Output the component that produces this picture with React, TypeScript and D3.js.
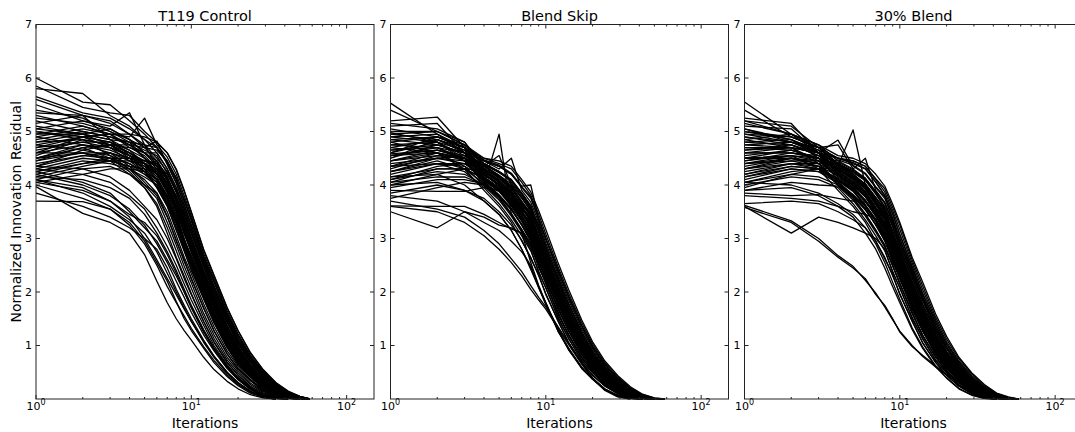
import React from 'react';
import * as d3 from 'd3';

// iteration number of every sample in a run
const ITERATIONS = [1, 2, 3, 4, 5, 6, 7, 8, 9, 10, 12, 14, 17, 20, 24, 29, 35, 42, 50, 58];
const Y_TICKS = [1, 2, 3, 4, 5, 6, 7];
const X_DECADES = [1, 10, 100];
const TITLES = ['T119 Control', 'Blend Skip', '30% Blend'];

// normalized innovation residual of each run, one value per entry of ITERATIONS
const CONTROL_RUNS = [
  [6.0, 5.55, 5.5, 5.2, 4.95, 4.7, 4.45, 4.12, 3.72, 3.35, 2.65, 2.19, 1.59, 1.17, 0.78, 0.49, 0.27, 0.11, 0.04, 0],
  [5.85, 5.45, 5.35, 5.3, 5.0, 4.8, 4.6, 4.3, 3.9, 3.5, 2.8, 2.32, 1.71, 1.28, 0.87, 0.55, 0.31, 0.15, 0.05, 0],
  [5.8, 5.71, 5.3, 5.1, 4.85, 4.6, 4.3, 3.95, 3.56, 3.18, 2.54, 2.05, 1.48, 1.07, 0.71, 0.44, 0.23, 0.09, 0.02, 0],
  [5.6, 5.3, 5.2, 4.95, 4.7, 4.45, 4.15, 3.78, 3.42, 2.98, 2.4, 1.92, 1.37, 0.98, 0.64, 0.38, 0.19, 0.07, 0.01, 0],
  [5.5, 5.2, 5.1, 5.35, 4.75, 4.35, 4.0, 3.6, 3.22, 2.84, 2.26, 1.78, 1.25, 0.89, 0.57, 0.33, 0.15, 0.05, 0.01, 0],
  [5.4, 5.25, 5.0, 4.8, 4.5, 4.2, 3.85, 3.45, 3.0, 2.65, 2.1, 1.62, 1.12, 0.78, 0.5, 0.27, 0.11, 0.04, 0],
  [5.3, 5.1, 4.95, 4.9, 5.25, 4.75, 4.52, 4.2, 3.8, 3.42, 2.72, 2.25, 1.65, 1.22, 0.82, 0.52, 0.29, 0.13, 0.045, 0],
  [5.2, 5.0, 4.9, 4.8, 4.65, 4.55, 4.22, 3.86, 3.47, 3.08, 2.47, 1.98, 1.43, 1.03, 0.68, 0.41, 0.21, 0.08, 0.015, 0],
  [5.15, 5.3, 4.85, 4.55, 4.3, 3.95, 3.6, 3.17, 2.76, 2.42, 1.87, 1.43, 0.96, 0.65, 0.41, 0.2, 0.08, 0.015, 0],
  [5.1, 4.95, 5.05, 4.85, 4.7, 4.82, 4.38, 4.03, 3.64, 3.26, 2.6, 2.12, 1.53, 1.12, 0.75, 0.47, 0.25, 0.1, 0.03, 0],
  [5.0, 4.9, 4.8, 4.6, 4.4, 4.1, 3.76, 3.36, 2.93, 2.58, 2.03, 1.56, 1.07, 0.74, 0.47, 0.25, 0.1, 0.03, 0],
  [4.95, 5.1, 4.95, 4.75, 4.5, 4.25, 3.92, 3.53, 3.11, 2.75, 2.18, 1.7, 1.19, 0.84, 0.54, 0.3, 0.13, 0.045, 0.005, 0],
  [4.9, 4.75, 4.6, 4.35, 4.05, 3.8, 3.4, 2.97, 2.57, 2.26, 1.69, 1.28, 0.84, 0.57, 0.34, 0.16, 0.05, 0.01, 0],
  [4.85, 5.0, 4.9, 4.75, 4.6, 4.45, 4.15, 3.74, 3.38, 3.02, 2.4, 1.92, 1.37, 0.98, 0.64, 0.38, 0.19, 0.07, 0.01, 0],
  [4.8, 4.85, 4.55, 4.3, 4.0, 3.75, 3.3, 2.88, 2.48, 2.17, 1.6, 1.2, 0.78, 0.53, 0.3, 0.14, 0.04, 0],
  [4.75, 4.9, 4.95, 4.95, 4.9, 4.8, 4.6, 4.28, 3.88, 3.48, 2.78, 2.3, 1.7, 1.27, 0.86, 0.54, 0.3, 0.14, 0.05, 0],
  [4.7, 4.9, 4.7, 4.45, 4.25, 4.05, 3.68, 3.28, 2.86, 2.5, 1.95, 1.5, 1.01, 0.69, 0.44, 0.23, 0.09, 0.02, 0],
  [4.65, 4.8, 4.7, 4.55, 4.4, 4.2, 3.88, 3.5, 2.96, 2.68, 2.12, 1.64, 1.14, 0.79, 0.51, 0.28, 0.12, 0.04, 0],
  [4.6, 4.6, 4.45, 4.2, 3.95, 3.6, 3.1, 2.65, 2.3, 1.97, 1.45, 1.06, 0.68, 0.45, 0.24, 0.1, 0.02, 0],
  [4.55, 4.85, 4.75, 4.6, 4.45, 4.4, 4.08, 3.69, 3.3, 2.91, 2.33, 1.85, 1.31, 0.94, 0.6, 0.35, 0.17, 0.06, 0.01, 0],
  [4.5, 4.7, 4.75, 4.7, 4.6, 4.6, 4.3, 3.95, 3.56, 3.18, 2.56, 2.06, 1.49, 1.08, 0.72, 0.45, 0.23, 0.09, 0.02, 0],
  [4.45, 4.7, 4.5, 4.25, 3.95, 3.65, 3.2, 2.77, 2.39, 2.07, 1.53, 1.13, 0.73, 0.49, 0.27, 0.12, 0.03, 0],
  [4.4, 4.55, 4.5, 4.4, 4.25, 4.1, 3.8, 3.32, 2.97, 2.55, 2.05, 1.58, 1.08, 0.75, 0.48, 0.26, 0.1, 0.03, 0],
  [4.35, 4.65, 4.75, 4.75, 4.7, 4.65, 4.45, 4.1, 3.74, 3.33, 2.67, 2.2, 1.6, 1.18, 0.79, 0.5, 0.28, 0.12, 0.04, 0],
  [4.3, 4.5, 4.45, 4.35, 4.3, 4.25, 3.9, 3.56, 3.08, 2.77, 2.2, 1.72, 1.2, 0.85, 0.55, 0.31, 0.13, 0.05, 0.01, 0],
  [4.2, 4.4, 4.5, 4.5, 4.45, 4.4, 4.2, 3.88, 3.45, 3.1, 2.48, 1.99, 1.44, 1.04, 0.69, 0.42, 0.21, 0.08, 0.02, 0],
  [4.1, 4.3, 4.35, 4.2, 4.0, 3.85, 3.5, 3.05, 2.65, 2.34, 1.78, 1.35, 0.9, 0.61, 0.37, 0.18, 0.06, 0.01, 0],
  [4.05, 4.2, 4.3, 4.3, 4.25, 4.3, 4.0, 3.62, 3.2, 2.86, 2.26, 1.78, 1.25, 0.89, 0.57, 0.33, 0.15, 0.05, 0.01, 0],
  [5.65, 5.35, 5.25, 5.05, 4.85, 4.7, 4.4, 4.05, 3.62, 3.24, 2.62, 2.1, 1.54, 1.11, 0.76, 0.46, 0.25, 0.1, 0.03, 0],
  [5.25, 5.15, 5.0, 4.85, 4.6, 4.4, 4.1, 3.7, 3.28, 2.92, 2.32, 1.84, 1.32, 0.93, 0.61, 0.35, 0.17, 0.06, 0.01, 0],
  [5.05, 4.95, 4.75, 4.5, 4.25, 3.95, 3.62, 3.15, 2.78, 2.4, 1.89, 1.42, 0.97, 0.64, 0.42, 0.2, 0.08, 0.015, 0],
  [4.95, 4.95, 4.85, 4.8, 4.75, 4.7, 4.43, 4.14, 3.7, 3.37, 2.63, 2.2, 1.58, 1.18, 0.77, 0.5, 0.27, 0.11, 0.04, 0],
  [4.5, 4.6, 4.5, 4.3, 4.1, 3.85, 3.42, 2.95, 2.6, 2.24, 1.71, 1.27, 0.85, 0.56, 0.35, 0.15, 0.05, 0.01, 0],
  [4.6, 4.75, 4.7, 4.55, 4.45, 4.35, 4.02, 3.58, 3.24, 2.82, 2.28, 1.77, 1.26, 0.88, 0.58, 0.32, 0.15, 0.05, 0.01, 0],
  [4.25, 4.45, 4.4, 4.3, 4.15, 4.0, 3.66, 3.3, 2.84, 2.52, 1.93, 1.52, 1.0, 0.7, 0.43, 0.24, 0.09, 0.02, 0],
  [4.15, 4.35, 4.45, 4.45, 4.4, 4.45, 4.12, 3.8, 3.36, 3.0, 2.38, 1.93, 1.36, 0.99, 0.63, 0.39, 0.19, 0.07, 0.01, 0],
  [5.05, 5.2, 5.05, 4.85, 4.6, 4.35, 4.0, 3.62, 3.22, 2.86, 2.27, 1.79, 1.26, 0.9, 0.58, 0.33, 0.15, 0.05, 0.01, 0],
  [4.9, 5.05, 4.95, 4.7, 4.55, 4.3, 3.95, 3.57, 3.14, 2.78, 2.2, 1.72, 1.2, 0.85, 0.55, 0.31, 0.13, 0.05, 0.01, 0],
  [4.8, 4.95, 4.85, 4.65, 4.4, 4.15, 3.8, 3.4, 2.98, 2.62, 2.08, 1.6, 1.11, 0.77, 0.5, 0.27, 0.11, 0.04, 0],
  [4.7, 4.8, 4.8, 4.65, 4.5, 4.35, 4.1, 3.72, 3.33, 2.95, 2.37, 1.89, 1.35, 0.97, 0.63, 0.37, 0.18, 0.07, 0.01, 0],
  [4.6, 4.9, 4.8, 4.6, 4.4, 4.25, 3.95, 3.55, 3.15, 2.8, 2.22, 1.74, 1.22, 0.86, 0.56, 0.32, 0.14, 0.05, 0.01, 0],
  [4.5, 4.75, 4.65, 4.5, 4.3, 4.1, 3.78, 3.38, 2.95, 2.6, 2.05, 1.58, 1.09, 0.76, 0.49, 0.26, 0.11, 0.04, 0],
  [4.45, 4.6, 4.6, 4.45, 4.35, 4.2, 3.9, 3.52, 3.1, 2.74, 2.16, 1.68, 1.17, 0.82, 0.53, 0.29, 0.12, 0.04, 0],
  [4.35, 4.55, 4.6, 4.5, 4.4, 4.3, 4.05, 3.68, 3.28, 2.9, 2.32, 1.84, 1.3, 0.93, 0.6, 0.35, 0.17, 0.06, 0.01, 0],
  [5.0, 4.85, 4.75, 4.55, 4.35, 4.1, 3.72, 3.3, 2.9, 2.54, 1.99, 1.53, 1.04, 0.72, 0.45, 0.24, 0.1, 0.03, 0],
  [4.75, 4.65, 4.55, 4.4, 4.2, 4.0, 3.65, 3.22, 2.82, 2.46, 1.91, 1.46, 0.98, 0.67, 0.42, 0.21, 0.08, 0.02, 0],
  [5.35, 5.3, 5.15, 4.95, 4.75, 4.5, 4.25, 3.9, 3.5, 3.12, 2.5, 2.0, 1.45, 1.05, 0.7, 0.42, 0.22, 0.08, 0.02, 0],
  [4.25, 4.4, 4.45, 4.35, 4.2, 4.05, 3.75, 3.35, 2.92, 2.57, 2.02, 1.55, 1.06, 0.73, 0.46, 0.25, 0.1, 0.03, 0],
  [3.97, 3.47, 3.3, 3.1, 2.7, 2.2, 1.8, 1.5, 1.28, 1.1, 0.78, 0.55, 0.33, 0.19, 0.08, 0.02, 0],
  [3.7, 3.69, 3.55, 3.25, 2.9, 2.5, 2.1, 1.8, 1.55, 1.32, 0.98, 0.72, 0.45, 0.27, 0.13, 0.04, 0],
  [4.05, 3.9, 3.7, 3.4, 3.0, 2.6, 2.25, 1.95, 1.68, 1.45, 1.08, 0.8, 0.5, 0.31, 0.15, 0.05, 0],
  [4.1, 3.85, 3.6, 3.35, 3.1, 2.75, 2.35, 2.0, 1.7, 1.45, 1.06, 0.78, 0.48, 0.3, 0.14, 0.04, 0],
  [4.0, 3.75, 3.55, 3.3, 2.95, 2.55, 2.2, 1.82, 1.5, 1.28, 0.95, 0.68, 0.42, 0.25, 0.11, 0.03, 0],
  [4.2, 4.0, 3.8, 3.55, 3.25, 2.9, 2.55, 2.2, 1.9, 1.62, 1.2, 0.9, 0.57, 0.36, 0.18, 0.06, 0],
  [4.25, 4.05, 3.85, 3.5, 3.2, 2.95, 2.6, 2.3, 2.0, 1.7, 1.25, 0.93, 0.6, 0.38, 0.19, 0.07, 0.01, 0],
  [4.15, 4.1, 3.95, 3.75, 3.45, 3.1, 2.75, 2.4, 2.05, 1.75, 1.3, 0.96, 0.62, 0.39, 0.2, 0.07, 0.01, 0],
  [4.3, 4.2, 4.05, 3.8, 3.55, 3.2, 2.85, 2.5, 2.15, 1.85, 1.38, 1.0, 0.64, 0.4, 0.2, 0.07, 0.01, 0],
  [3.85, 3.6, 3.4, 3.2, 3.0, 2.8, 2.45, 2.05, 1.75, 1.5, 1.1, 0.8, 0.5, 0.3, 0.14, 0.04, 0],
  [4.1, 3.95, 3.7, 3.45, 3.3, 3.05, 2.7, 2.35, 2.0, 1.72, 1.27, 0.94, 0.6, 0.37, 0.18, 0.06, 0],
  [4.35, 4.3, 4.15, 3.9, 3.6, 3.35, 3.0, 2.62, 2.25, 1.95, 1.45, 1.07, 0.69, 0.44, 0.22, 0.08, 0.01, 0],
];

const SKIP_RUNS = [
  [5.53, 4.95, 4.7, 4.5, 4.45, 4.35, 4.1, 3.87, 3.52, 3.17, 2.54, 2.05, 1.48, 1.07, 0.71, 0.44, 0.23, 0.09, 0.02, 0],
  [5.4, 5.0, 4.75, 4.45, 4.35, 4.2, 3.95, 3.75, 3.38, 2.98, 2.4, 1.92, 1.37, 0.98, 0.64, 0.38, 0.19, 0.07, 0.01, 0],
  [5.2, 5.27, 4.7, 4.2, 4.0, 3.8, 3.5, 3.28, 2.86, 2.5, 1.95, 1.5, 1.01, 0.69, 0.44, 0.23, 0.09, 0.02, 0],
  [5.15, 5.05, 4.8, 4.3, 4.15, 3.95, 3.65, 3.45, 3.0, 2.65, 2.1, 1.62, 1.12, 0.78, 0.5, 0.27, 0.11, 0.04, 0],
  [5.1, 5.15, 4.6, 4.1, 3.9, 3.62, 3.35, 3.05, 2.65, 2.34, 1.78, 1.35, 0.9, 0.61, 0.37, 0.18, 0.06, 0.01, 0],
  [5.0, 5.0, 4.75, 4.4, 4.25, 4.1, 3.85, 3.6, 3.22, 2.84, 2.26, 1.78, 1.25, 0.89, 0.57, 0.33, 0.15, 0.05, 0.01, 0],
  [4.98, 4.8, 4.5, 4.0, 4.95, 3.45, 3.15, 2.88, 2.48, 2.17, 1.6, 1.2, 0.78, 0.53, 0.3, 0.14, 0.04, 0],
  [4.95, 4.85, 4.6, 4.25, 4.05, 3.85, 3.55, 3.37, 2.93, 2.58, 2.03, 1.56, 1.07, 0.74, 0.47, 0.25, 0.1, 0.03, 0],
  [4.9, 4.95, 4.6, 4.15, 3.95, 3.7, 3.42, 3.17, 2.76, 2.42, 1.87, 1.43, 0.96, 0.65, 0.41, 0.2, 0.08, 0.015, 0],
  [4.85, 4.75, 4.6, 4.35, 4.55, 4.0, 3.75, 3.53, 3.11, 2.75, 2.18, 1.7, 1.19, 0.84, 0.54, 0.3, 0.13, 0.045, 0.005, 0],
  [4.8, 4.6, 4.3, 3.9, 3.6, 3.3, 2.95, 2.65, 2.3, 1.97, 1.45, 1.06, 0.68, 0.45, 0.24, 0.1, 0.02, 0],
  [4.75, 4.7, 4.45, 4.05, 3.8, 3.55, 3.25, 2.97, 2.57, 2.26, 1.69, 1.28, 0.84, 0.57, 0.34, 0.16, 0.05, 0.01, 0],
  [4.7, 4.85, 4.65, 4.45, 4.3, 4.5, 3.9, 3.68, 3.3, 2.91, 2.33, 1.85, 1.31, 0.94, 0.6, 0.35, 0.17, 0.06, 0.01, 0],
  [4.65, 4.7, 4.5, 4.22, 3.98, 3.78, 3.48, 3.3, 2.82, 2.52, 1.93, 1.52, 1.0, 0.7, 0.43, 0.24, 0.09, 0.02, 0],
  [4.6, 4.8, 4.45, 4.08, 3.88, 3.6, 3.32, 3.02, 2.68, 2.32, 1.8, 1.34, 0.91, 0.6, 0.38, 0.17, 0.06, 0.01, 0],
  [4.58, 4.65, 4.55, 4.32, 4.12, 3.93, 3.67, 3.48, 2.97, 2.67, 2.08, 1.63, 1.11, 0.79, 0.49, 0.28, 0.11, 0.04, 0],
  [4.55, 4.6, 4.35, 3.98, 3.72, 3.42, 3.12, 2.84, 2.5, 2.15, 1.62, 1.19, 0.79, 0.52, 0.31, 0.13, 0.04, 0],
  [4.5, 4.75, 4.6, 4.45, 4.35, 4.2, 3.98, 4.0, 3.36, 3.0, 2.38, 1.93, 1.36, 0.99, 0.63, 0.39, 0.19, 0.07, 0.01, 0],
  [4.45, 4.55, 4.5, 4.27, 4.07, 3.83, 3.57, 3.4, 2.9, 2.6, 2.01, 1.57, 1.06, 0.75, 0.46, 0.26, 0.1, 0.03, 0],
  [4.4, 4.5, 4.4, 4.13, 3.93, 3.68, 3.44, 3.14, 2.79, 2.4, 1.89, 1.42, 0.97, 0.64, 0.42, 0.19, 0.08, 0.01, 0],
  [4.35, 4.4, 4.25, 3.95, 3.65, 3.35, 3.05, 2.77, 2.39, 2.07, 1.53, 1.13, 0.73, 0.49, 0.27, 0.12, 0.03, 0],
  [4.3, 4.55, 4.5, 4.37, 4.18, 4.02, 3.77, 3.5, 3.14, 2.73, 2.2, 1.69, 1.2, 0.83, 0.55, 0.29, 0.13, 0.05, 0.01, 0],
  [4.25, 4.45, 4.3, 4.03, 3.78, 3.53, 3.27, 3.0, 2.55, 2.28, 1.67, 1.29, 0.83, 0.58, 0.33, 0.17, 0.05, 0.01, 0],
  [4.2, 4.4, 4.4, 4.18, 4.02, 3.82, 3.52, 3.25, 2.88, 2.48, 1.97, 1.49, 1.02, 0.68, 0.45, 0.22, 0.09, 0.02, 0],
  [4.15, 4.2, 4.0, 3.7, 3.45, 3.15, 2.8, 2.46, 2.1, 1.78, 1.28, 0.93, 0.58, 0.37, 0.18, 0.065, 0.01, 0],
  [4.1, 4.35, 4.4, 4.38, 4.23, 4.08, 3.83, 3.57, 3.25, 2.82, 2.28, 1.77, 1.26, 0.88, 0.58, 0.32, 0.15, 0.05, 0.01, 0],
  [4.05, 4.3, 4.3, 4.12, 3.92, 3.64, 3.37, 3.08, 2.62, 2.36, 1.76, 1.36, 0.89, 0.62, 0.36, 0.18, 0.06, 0.01, 0],
  [4.0, 4.2, 4.3, 4.28, 4.17, 3.97, 3.63, 3.42, 3.03, 2.63, 2.12, 1.61, 1.13, 0.77, 0.51, 0.26, 0.11, 0.04, 0],
  [3.95, 4.1, 4.1, 4.02, 3.77, 3.47, 3.17, 2.9, 2.46, 2.19, 1.58, 1.21, 0.77, 0.54, 0.29, 0.14, 0.04, 0],
  [3.9, 3.88, 3.88, 3.95, 3.9, 3.8, 3.56, 3.35, 2.95, 2.56, 2.04, 1.55, 1.08, 0.73, 0.48, 0.24, 0.1, 0.03, 0],
  [3.85, 4.0, 3.9, 3.75, 3.5, 3.25, 2.97, 2.62, 2.33, 1.95, 1.47, 1.05, 0.69, 0.44, 0.25, 0.1, 0.02, 0],
  [4.6, 4.9, 4.75, 4.5, 4.4, 4.3, 4.05, 3.81, 3.45, 3.08, 2.47, 1.98, 1.43, 1.03, 0.68, 0.41, 0.21, 0.08, 0.015, 0],
  [4.8, 4.9, 4.7, 4.47, 4.37, 4.22, 3.97, 3.78, 3.35, 3.0, 2.42, 1.9, 1.38, 0.97, 0.65, 0.37, 0.19, 0.07, 0.01, 0],
  [3.61, 3.6, 3.6, 3.45, 3.3, 3.18, 3.1, 2.55, 2.12, 1.8, 1.3, 0.95, 0.6, 0.38, 0.19, 0.07, 0.01, 0],
  [3.5, 3.2, 3.5, 3.4, 3.25, 3.2, 3.1, 2.8, 2.36, 2.09, 1.51, 1.14, 0.72, 0.5, 0.26, 0.12, 0.03, 0],
  [3.75, 3.95, 4.05, 4.0, 3.88, 3.68, 3.42, 3.17, 2.76, 2.42, 1.87, 1.43, 0.96, 0.65, 0.41, 0.2, 0.08, 0.015, 0],
  [3.6, 3.5, 3.3, 3.05, 2.8, 2.55, 2.3, 2.05, 1.85, 1.68, 1.32, 1.02, 0.65, 0.38, 0.16, 0.04, 0],
  [3.7, 3.55, 3.4, 3.15, 2.9, 2.62, 2.38, 2.12, 1.9, 1.72, 1.35, 1.05, 0.68, 0.4, 0.18, 0.05, 0],
  [4.45, 4.65, 4.5, 4.07, 3.82, 3.56, 3.26, 2.95, 2.6, 2.24, 1.71, 1.27, 0.85, 0.56, 0.35, 0.15, 0.05, 0.01, 0],
  [3.8, 3.7, 3.5, 3.3, 3.15, 2.95, 2.75, 2.5, 2.08, 1.8, 1.26, 0.95, 0.57, 0.38, 0.17, 0.07, 0.01, 0],
  [4.55, 4.7, 4.6, 4.2, 4.0, 3.8, 3.5, 3.26, 2.84, 2.49, 1.96, 1.49, 1.0, 0.7, 0.44, 0.23, 0.09, 0.02, 0],
  [4.35, 4.6, 4.5, 4.3, 4.15, 3.95, 3.65, 3.43, 2.99, 2.66, 2.09, 1.61, 1.13, 0.77, 0.5, 0.27, 0.11, 0.04, 0],
  [4.9, 4.8, 4.55, 4.1, 3.9, 3.62, 3.35, 3.07, 2.64, 2.35, 1.77, 1.36, 0.89, 0.62, 0.37, 0.18, 0.06, 0.01, 0],
  [4.25, 4.5, 4.55, 4.4, 4.25, 4.1, 3.85, 3.62, 3.2, 2.86, 2.24, 1.79, 1.24, 0.9, 0.56, 0.33, 0.15, 0.05, 0.01, 0],
  [4.1, 4.25, 4.2, 4.0, 3.75, 3.45, 3.15, 2.9, 2.47, 2.18, 1.59, 1.21, 0.77, 0.54, 0.3, 0.14, 0.04, 0],
  [5.05, 4.9, 4.7, 4.25, 4.05, 3.85, 3.55, 3.38, 2.92, 2.59, 2.02, 1.57, 1.06, 0.75, 0.46, 0.25, 0.1, 0.03, 0],
  [4.0, 4.05, 3.9, 3.7, 3.45, 3.15, 2.8, 2.42, 2.08, 1.76, 1.27, 0.92, 0.58, 0.37, 0.18, 0.065, 0.01, 0],
  [4.95, 5.0, 4.8, 4.35, 4.15, 3.9, 3.6, 3.35, 2.96, 2.6, 2.05, 1.57, 1.09, 0.75, 0.48, 0.26, 0.1, 0.03, 0],
  [4.85, 4.9, 4.7, 4.3, 4.08, 3.86, 3.58, 3.3, 2.88, 2.53, 1.99, 1.52, 1.04, 0.71, 0.45, 0.24, 0.09, 0.02, 0],
  [4.75, 4.8, 4.65, 4.25, 4.05, 3.8, 3.5, 3.2, 2.8, 2.45, 1.9, 1.46, 0.98, 0.67, 0.42, 0.21, 0.08, 0.02, 0],
  [4.65, 4.75, 4.6, 4.35, 4.18, 3.98, 3.7, 3.47, 3.05, 2.7, 2.12, 1.65, 1.15, 0.8, 0.52, 0.28, 0.12, 0.04, 0],
  [4.55, 4.65, 4.5, 4.2, 3.98, 3.74, 3.45, 3.12, 2.72, 2.38, 1.84, 1.4, 0.94, 0.63, 0.39, 0.19, 0.07, 0.01, 0],
  [4.45, 4.6, 4.5, 4.28, 4.1, 3.88, 3.6, 3.33, 2.92, 2.56, 2.01, 1.54, 1.05, 0.72, 0.46, 0.24, 0.09, 0.02, 0],
  [4.35, 4.5, 4.45, 4.22, 4.02, 3.8, 3.52, 3.22, 2.83, 2.48, 1.93, 1.47, 1.0, 0.68, 0.43, 0.22, 0.08, 0.02, 0],
  [4.25, 4.4, 4.35, 4.15, 3.95, 3.72, 3.45, 3.1, 2.7, 2.37, 1.82, 1.39, 0.93, 0.63, 0.39, 0.19, 0.07, 0.01, 0],
  [4.15, 4.3, 4.3, 4.12, 3.95, 3.75, 3.5, 3.2, 2.8, 2.46, 1.92, 1.47, 0.99, 0.67, 0.42, 0.21, 0.08, 0.02, 0],
  [4.5, 4.85, 4.7, 4.4, 4.25, 4.05, 3.8, 3.55, 3.15, 2.78, 2.2, 1.72, 1.2, 0.85, 0.54, 0.31, 0.13, 0.05, 0.01, 0],
  [4.05, 4.15, 4.15, 4.0, 3.8, 3.55, 3.25, 2.95, 2.55, 2.24, 1.7, 1.29, 0.85, 0.58, 0.34, 0.16, 0.05, 0.01, 0],
  [4.7, 4.6, 4.45, 4.15, 3.92, 3.66, 3.38, 3.05, 2.66, 2.33, 1.79, 1.37, 0.91, 0.62, 0.38, 0.18, 0.07, 0.01, 0],
];

const BLEND_RUNS = [
  [5.55, 4.95, 4.75, 4.55, 4.5, 4.4, 4.2, 3.98, 3.64, 3.3, 2.65, 2.19, 1.59, 1.17, 0.78, 0.49, 0.27, 0.11, 0.04, 0],
  [5.4, 4.9, 4.7, 4.5, 4.45, 4.35, 4.1, 3.87, 3.52, 3.17, 2.54, 2.05, 1.48, 1.07, 0.71, 0.44, 0.23, 0.09, 0.02, 0],
  [5.25, 5.15, 4.6, 4.3, 4.15, 3.95, 3.65, 3.45, 3.0, 2.65, 2.1, 1.62, 1.12, 0.78, 0.5, 0.27, 0.11, 0.04, 0],
  [5.2, 5.1, 4.7, 4.4, 4.25, 4.1, 3.85, 3.6, 3.22, 2.84, 2.26, 1.78, 1.25, 0.89, 0.57, 0.33, 0.15, 0.05, 0.01, 0],
  [5.15, 4.95, 4.6, 4.2, 4.0, 3.8, 3.5, 3.28, 2.86, 2.5, 1.95, 1.5, 1.01, 0.69, 0.44, 0.23, 0.09, 0.02, 0],
  [5.1, 5.05, 4.6, 4.84, 4.35, 4.2, 3.95, 3.75, 3.38, 2.98, 2.4, 1.92, 1.37, 0.98, 0.64, 0.38, 0.19, 0.07, 0.01, 0],
  [5.05, 4.8, 4.7, 4.35, 5.03, 4.0, 3.75, 3.53, 3.11, 2.75, 2.18, 1.7, 1.19, 0.84, 0.54, 0.3, 0.13, 0.045, 0.005, 0],
  [5.0, 4.85, 4.5, 4.1, 3.9, 3.62, 3.35, 3.05, 2.65, 2.34, 1.78, 1.35, 0.9, 0.61, 0.37, 0.18, 0.06, 0.01, 0],
  [4.95, 4.9, 4.7, 4.75, 4.3, 4.5, 3.9, 3.68, 3.3, 2.91, 2.33, 1.85, 1.31, 0.94, 0.6, 0.35, 0.17, 0.06, 0.01, 0],
  [4.9, 4.75, 4.55, 4.25, 4.05, 3.85, 3.55, 3.37, 2.93, 2.58, 2.03, 1.56, 1.07, 0.74, 0.47, 0.25, 0.1, 0.03, 0],
  [4.85, 4.7, 4.4, 4.0, 3.75, 3.45, 3.15, 2.88, 2.48, 2.17, 1.6, 1.2, 0.78, 0.53, 0.3, 0.14, 0.04, 0],
  [4.8, 4.85, 4.6, 4.32, 4.13, 3.93, 3.63, 3.42, 3.04, 2.63, 2.12, 1.6, 1.13, 0.77, 0.51, 0.26, 0.11, 0.04, 0],
  [4.75, 4.8, 4.65, 4.5, 4.4, 4.3, 4.05, 3.81, 3.45, 3.08, 2.47, 1.98, 1.43, 1.03, 0.68, 0.41, 0.21, 0.08, 0.015, 0],
  [4.7, 4.7, 4.45, 4.15, 3.95, 3.7, 3.42, 3.17, 2.76, 2.42, 1.87, 1.43, 0.96, 0.65, 0.41, 0.2, 0.08, 0.015, 0],
  [4.65, 4.75, 4.55, 4.27, 4.07, 3.83, 3.57, 3.4, 2.9, 2.6, 2.01, 1.57, 1.06, 0.75, 0.46, 0.26, 0.1, 0.03, 0],
  [4.6, 4.7, 4.6, 4.5, 4.45, 4.35, 4.12, 3.93, 3.58, 3.25, 2.6, 2.12, 1.53, 1.12, 0.75, 0.47, 0.25, 0.1, 0.03, 0],
  [4.55, 4.65, 4.5, 4.37, 4.18, 4.02, 3.77, 3.5, 3.14, 2.73, 2.2, 1.69, 1.2, 0.83, 0.55, 0.29, 0.13, 0.05, 0.01, 0],
  [4.5, 4.55, 4.3, 3.9, 3.6, 3.3, 2.95, 2.65, 2.3, 1.97, 1.45, 1.06, 0.68, 0.45, 0.24, 0.1, 0.02, 0],
  [4.45, 4.6, 4.5, 4.38, 4.23, 4.08, 3.83, 3.57, 3.25, 2.82, 2.28, 1.77, 1.26, 0.88, 0.58, 0.32, 0.15, 0.05, 0.01, 0],
  [4.4, 4.55, 4.45, 4.22, 3.98, 3.78, 3.48, 3.3, 2.82, 2.52, 1.93, 1.52, 1.0, 0.7, 0.43, 0.24, 0.09, 0.02, 0],
  [4.35, 4.5, 4.35, 4.08, 3.88, 3.6, 3.32, 3.02, 2.68, 2.32, 1.8, 1.34, 0.91, 0.6, 0.38, 0.17, 0.06, 0.01, 0],
  [4.3, 4.45, 4.45, 4.28, 4.17, 3.97, 3.67, 3.48, 2.97, 2.67, 2.08, 1.63, 1.11, 0.79, 0.49, 0.28, 0.11, 0.04, 0],
  [4.25, 4.4, 4.3, 4.05, 3.8, 3.55, 3.25, 2.97, 2.57, 2.26, 1.69, 1.28, 0.84, 0.57, 0.34, 0.16, 0.05, 0.01, 0],
  [4.2, 4.4, 4.4, 4.47, 4.37, 4.22, 3.97, 3.78, 3.35, 3.0, 2.42, 1.9, 1.38, 0.97, 0.65, 0.37, 0.19, 0.07, 0.01, 0],
  [4.15, 4.35, 4.3, 4.13, 3.93, 3.68, 3.44, 3.14, 2.79, 2.4, 1.89, 1.42, 0.97, 0.64, 0.42, 0.19, 0.08, 0.01, 0],
  [4.1, 4.3, 4.25, 4.03, 3.78, 3.53, 3.27, 3.0, 2.55, 2.28, 1.67, 1.29, 0.83, 0.58, 0.33, 0.17, 0.05, 0.01, 0],
  [4.05, 4.25, 4.3, 4.33, 4.2, 4.0, 3.76, 3.56, 3.08, 2.77, 2.16, 1.71, 1.18, 0.85, 0.53, 0.31, 0.13, 0.04, 0.01, 0],
  [4.0, 4.15, 4.1, 3.95, 3.65, 3.35, 3.05, 2.77, 2.39, 2.07, 1.53, 1.13, 0.73, 0.49, 0.27, 0.12, 0.03, 0],
  [3.95, 4.2, 4.3, 4.43, 4.28, 4.13, 3.88, 3.66, 3.33, 2.9, 2.35, 1.86, 1.32, 0.95, 0.61, 0.36, 0.17, 0.06, 0.01, 0],
  [3.9, 4.05, 4.0, 3.98, 3.72, 3.42, 3.12, 2.84, 2.5, 2.15, 1.62, 1.19, 0.79, 0.52, 0.31, 0.13, 0.04, 0],
  [3.85, 3.8, 3.82, 3.75, 3.7, 3.68, 3.5, 3.25, 2.88, 2.48, 1.97, 1.49, 1.02, 0.68, 0.45, 0.22, 0.09, 0.02, 0],
  [3.8, 3.75, 3.7, 3.6, 3.5, 3.45, 3.37, 3.08, 2.62, 2.36, 1.76, 1.36, 0.89, 0.62, 0.36, 0.18, 0.06, 0.01, 0],
  [3.65, 3.7, 3.65, 3.5, 3.35, 3.2, 2.95, 2.62, 2.33, 1.95, 1.47, 1.05, 0.69, 0.44, 0.25, 0.1, 0.02, 0],
  [3.6, 3.1, 3.4, 3.3, 3.2, 3.1, 3.0, 2.8, 2.36, 2.09, 1.51, 1.14, 0.72, 0.5, 0.26, 0.12, 0.03, 0],
  [3.58, 3.3, 2.95, 2.65, 2.45, 2.25, 1.95, 1.75, 1.5, 1.25, 0.98, 0.82, 0.62, 0.46, 0.34, 0.18, 0.03, 0],
  [3.62, 3.33, 3.0, 2.68, 2.48, 2.22, 1.98, 1.72, 1.48, 1.27, 1.0, 0.8, 0.6, 0.45, 0.32, 0.17, 0.02, 0],
  [4.6, 4.6, 4.55, 4.3, 4.1, 3.88, 3.58, 3.35, 2.95, 2.56, 2.04, 1.55, 1.08, 0.73, 0.48, 0.24, 0.1, 0.03, 0],
  [4.5, 4.65, 4.5, 4.18, 3.96, 3.72, 3.45, 3.2, 2.73, 2.44, 1.85, 1.44, 0.95, 0.66, 0.4, 0.21, 0.08, 0.01, 0],
  [4.3, 4.5, 4.4, 4.06, 3.82, 3.56, 3.26, 2.95, 2.6, 2.24, 1.71, 1.27, 0.85, 0.56, 0.35, 0.15, 0.05, 0.01, 0],
  [4.75, 4.7, 4.6, 4.2, 4.0, 3.8, 3.5, 3.28, 2.86, 2.5, 1.95, 1.5, 1.01, 0.69, 0.44, 0.23, 0.09, 0.02, 0],
  [4.45, 4.55, 4.5, 4.3, 4.15, 3.95, 3.66, 3.44, 3.01, 2.64, 2.11, 1.61, 1.13, 0.77, 0.51, 0.26, 0.11, 0.04, 0],
  [4.95, 4.8, 4.6, 4.22, 4.02, 3.8, 3.52, 3.26, 2.87, 2.49, 1.96, 1.49, 1.02, 0.68, 0.45, 0.22, 0.09, 0.02, 0],
  [4.65, 4.7, 4.6, 4.4, 4.26, 4.1, 3.86, 3.58, 3.23, 2.83, 2.27, 1.77, 1.26, 0.88, 0.58, 0.32, 0.15, 0.05, 0.01, 0],
  [4.2, 4.35, 4.3, 4.1, 3.9, 3.63, 3.36, 3.06, 2.64, 2.35, 1.77, 1.36, 0.89, 0.62, 0.37, 0.18, 0.06, 0.01, 0],
  [5.0, 4.9, 4.7, 4.5, 4.42, 4.3, 4.06, 3.8, 3.46, 3.07, 2.48, 1.97, 1.44, 1.02, 0.69, 0.4, 0.21, 0.08, 0.015, 0],
  [4.4, 4.45, 4.35, 4.0, 3.76, 3.46, 3.16, 2.87, 2.49, 2.16, 1.61, 1.19, 0.79, 0.52, 0.31, 0.13, 0.04, 0],
  [3.9, 3.95, 3.8, 3.6, 3.4, 3.1, 2.8, 2.45, 2.1, 1.8, 1.3, 0.95, 0.6, 0.39, 0.19, 0.07, 0.01, 0],
  [4.05, 4.0, 3.85, 3.65, 3.45, 3.2, 2.9, 2.55, 2.18, 1.86, 1.33, 0.98, 0.62, 0.4, 0.2, 0.08, 0.01, 0],
  [5.2, 4.95, 4.7, 4.4, 4.2, 3.98, 3.7, 3.45, 3.05, 2.7, 2.13, 1.66, 1.15, 0.8, 0.52, 0.28, 0.12, 0.04, 0],
  [5.05, 4.85, 4.65, 4.35, 4.15, 3.92, 3.64, 3.36, 2.96, 2.61, 2.05, 1.58, 1.09, 0.76, 0.48, 0.26, 0.1, 0.03, 0],
  [4.9, 4.8, 4.6, 4.3, 4.1, 3.86, 3.58, 3.3, 2.9, 2.55, 2.0, 1.54, 1.05, 0.72, 0.46, 0.24, 0.09, 0.02, 0],
  [4.8, 4.75, 4.6, 4.38, 4.2, 4.02, 3.76, 3.52, 3.14, 2.76, 2.19, 1.7, 1.19, 0.84, 0.54, 0.31, 0.13, 0.05, 0.01, 0],
  [4.7, 4.65, 4.5, 4.25, 4.04, 3.8, 3.52, 3.22, 2.82, 2.48, 1.93, 1.47, 1.0, 0.68, 0.43, 0.22, 0.08, 0.02, 0],
  [4.6, 4.6, 4.5, 4.3, 4.12, 3.92, 3.66, 3.4, 3.0, 2.64, 2.08, 1.6, 1.11, 0.77, 0.49, 0.27, 0.11, 0.04, 0],
  [4.5, 4.5, 4.4, 4.2, 4.0, 3.78, 3.5, 3.18, 2.78, 2.45, 1.9, 1.45, 0.98, 0.67, 0.42, 0.21, 0.08, 0.02, 0],
  [4.4, 4.5, 4.45, 4.3, 4.15, 3.98, 3.72, 3.47, 3.08, 2.72, 2.15, 1.67, 1.16, 0.81, 0.52, 0.29, 0.12, 0.04, 0],
  [4.3, 4.4, 4.35, 4.18, 4.0, 3.8, 3.55, 3.25, 2.85, 2.51, 1.96, 1.5, 1.02, 0.7, 0.44, 0.23, 0.09, 0.02, 0],
  [4.15, 4.3, 4.25, 4.1, 3.92, 3.7, 3.42, 3.1, 2.72, 2.38, 1.83, 1.4, 0.94, 0.63, 0.39, 0.19, 0.07, 0.01, 0],
  [4.85, 4.95, 4.75, 4.45, 4.3, 4.12, 3.88, 3.66, 3.3, 2.93, 2.35, 1.86, 1.32, 0.95, 0.61, 0.36, 0.17, 0.06, 0.01, 0],
  [4.05, 4.2, 4.15, 4.0, 3.82, 3.6, 3.32, 3.0, 2.6, 2.28, 1.74, 1.32, 0.87, 0.59, 0.35, 0.17, 0.05, 0.01, 0],
];

const PANEL_RUNS = [CONTROL_RUNS, SKIP_RUNS, BLEND_RUNS];

const WIDTH = 1075;
const HEIGHT = 432;
const TOP = 24.5;
const BOTTOM = 399;
const PANEL_W = 338;
const PANEL_LEFTS = [36, 390.5, 744.5];
const FONT = '"DejaVu Sans", sans-serif';

const Panel = ({ left, title, runs, showYLabel }: { left: number; title: string; runs: number[][]; showYLabel: boolean }) => {
  const x = d3.scaleLog().domain([1, 150]).range([left, left + PANEL_W]);
  const y = d3.scaleLinear().domain([0, 7]).range([BOTTOM, TOP]);
  const line = d3.line<number>()
    .x((_, i) => x(ITERATIONS[i]))
    .y(d => y(d));

  // minor log ticks between the decades
  const minorTicks = x.ticks().filter(t => !X_DECADES.includes(t));
  const right = left + PANEL_W;

  return (
    <g>
      {runs.map((r, i) => (
        <path key={i} d={line(r) || ''} fill="none" stroke="#000" strokeWidth={1.3} strokeLinejoin="round" />
      ))}

      <rect x={left} y={TOP} width={PANEL_W} height={BOTTOM - TOP} fill="none" stroke="#222" strokeWidth={1} />

      {/* y ticks on both spines, pointing in */}
      {Y_TICKS.map(t => (
        <g key={'y' + t}>
          <line x1={left} x2={left + 4} y1={y(t)} y2={y(t)} stroke="#222" />
          <line x1={right - 4} x2={right} y1={y(t)} y2={y(t)} stroke="#222" />
          <text x={left - 4} y={y(t)} dy="0.35em" textAnchor="end" fontSize={11} fontFamily={FONT} fill="#000">{t}</text>
        </g>
      ))}

      {X_DECADES.map(t => (
        <g key={'x' + t}>
          <line x1={x(t)} x2={x(t)} y1={BOTTOM} y2={BOTTOM - 4} stroke="#222" />
          <line x1={x(t)} x2={x(t)} y1={TOP} y2={TOP + 4} stroke="#222" />
          <text x={x(t)} y={410} textAnchor="middle" fontSize={11} fontFamily={FONT} fill="#000">
            10<tspan dy={-5} fontSize={8}>{Math.round(Math.log10(t))}</tspan>
          </text>
        </g>
      ))}
      {minorTicks.map(t => (
        <g key={'m' + t}>
          <line x1={x(t)} x2={x(t)} y1={BOTTOM} y2={BOTTOM - 2} stroke="#222" />
          <line x1={x(t)} x2={x(t)} y1={TOP} y2={TOP + 2} stroke="#222" />
        </g>
      ))}

      <text x={left + PANEL_W / 2} y={21} textAnchor="middle" fontSize={14.5} fontFamily={FONT} fill="#000">{title}</text>
      <text x={left + PANEL_W / 2} y={428} textAnchor="middle" fontSize={14} fontFamily={FONT} fill="#000">Iterations</text>
      {showYLabel && (
        <text transform={`translate(21,${(TOP + BOTTOM) / 2}) rotate(-90)`} textAnchor="middle" fontSize={14} fontFamily={FONT} fill="#000">
          Normalized Innovation Residual
        </text>
      )}
    </g>
  );
};

export default function App() {
  return (
    <svg width={WIDTH} height={HEIGHT} style={{ position: 'absolute', left: 0, top: 0, background: '#fff' }}>
      <rect width={WIDTH} height={HEIGHT} fill="#fff" />
      {PANEL_RUNS.map((runs, i) => (
        <Panel key={i} left={PANEL_LEFTS[i]} title={TITLES[i]} runs={runs} showYLabel={i === 0} />
      ))}
    </svg>
  );
}
